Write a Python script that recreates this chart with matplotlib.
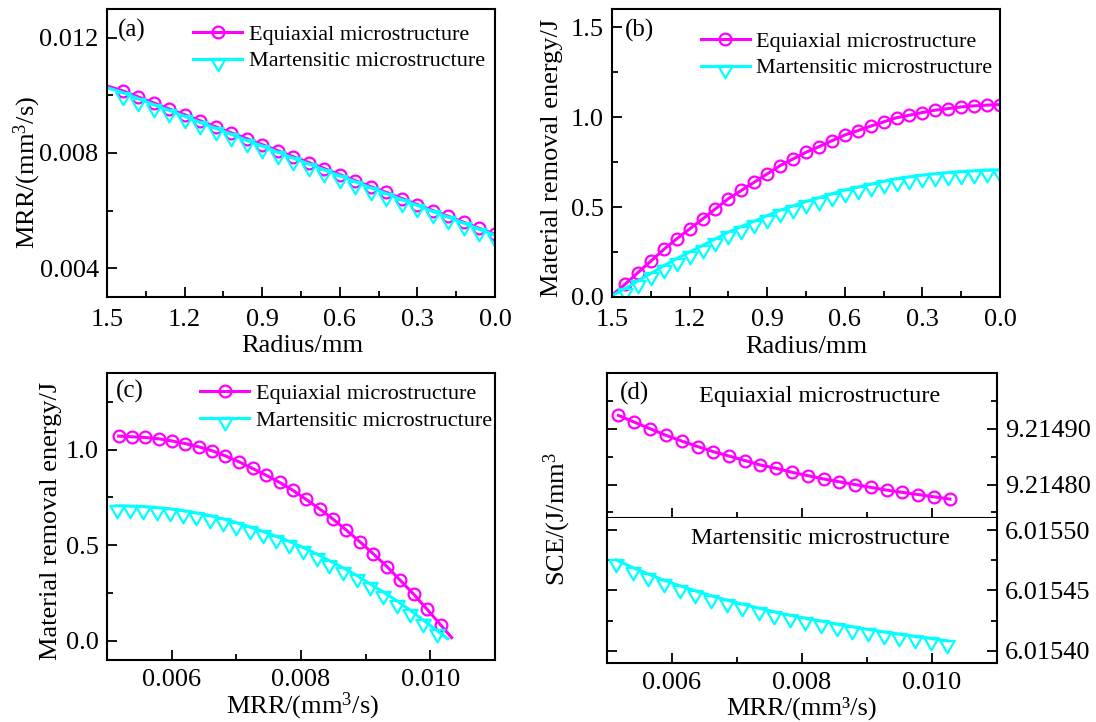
import matplotlib
matplotlib.use('Agg')
import matplotlib.pyplot as plt
from matplotlib.path import Path
from matplotlib.ticker import FixedLocator, FormatStrFormatter

plt.rcParams['font.family'] = ['Liberation Serif', 'DejaVu Serif']
plt.rcParams['mathtext.fontset'] = 'custom'
plt.rcParams['mathtext.rm'] = 'Liberation Serif'
plt.rcParams['mathtext.it'] = 'Liberation Serif:italic'
plt.rcParams['mathtext.default'] = 'regular'

# ---------------- data ----------------
# radius grid (mm) used in panels (a) and (c)
radius_a = [0.00, 0.06, 0.12, 0.18, 0.24, 0.30, 0.36, 0.42, 0.48, 0.54, 0.60, 0.66, 0.72,
            0.78, 0.84, 0.90, 0.96, 1.02, 1.08, 1.14, 1.20, 1.26, 1.32, 1.38, 1.44, 1.50]
mrr_eq = [0.00518, 0.00538, 0.00559, 0.00580, 0.00600, 0.00621, 0.00642, 0.00663, 0.00683,
          0.00704, 0.00725, 0.00746, 0.00767, 0.00787, 0.00808, 0.00829, 0.00850, 0.00870,
          0.00891, 0.00912, 0.00933, 0.00953, 0.00974, 0.00995, 0.01016, 0.01033]
mrr_ma = [0.00515, 0.00535, 0.00556, 0.00577, 0.00597, 0.00618, 0.00638, 0.00659, 0.00679,
          0.00700, 0.00721, 0.00741, 0.00762, 0.00782, 0.00803, 0.00824, 0.00844, 0.00865,
          0.00886, 0.00906, 0.00927, 0.00948, 0.00968, 0.00989, 0.01010, 0.01027]
energy_eq_c = [1.070, 1.067, 1.063, 1.056, 1.045, 1.031, 1.014, 0.993, 0.967, 0.936, 0.901,
               0.866, 0.828, 0.788, 0.739, 0.689, 0.635, 0.579, 0.518, 0.454, 0.388, 0.318,
               0.245, 0.165, 0.083, 0.017]
energy_ma_c = [0.706, 0.704, 0.702, 0.697, 0.690, 0.680, 0.669, 0.655, 0.638, 0.618, 0.595,
               0.572, 0.546, 0.520, 0.488, 0.455, 0.419, 0.382, 0.342, 0.300, 0.256, 0.210,
               0.162, 0.109, 0.055, 0.011]

# radius grid (mm) used in panel (b)
radius_b = [0.00, 0.05, 0.10, 0.15, 0.20, 0.25, 0.30, 0.35, 0.40, 0.45, 0.50, 0.55, 0.60,
            0.65, 0.70, 0.75, 0.80, 0.85, 0.90, 0.95, 1.00, 1.05, 1.10, 1.15, 1.20, 1.25,
            1.30, 1.35, 1.40, 1.45, 1.50]
energy_eq_b = [1.069, 1.066, 1.062, 1.056, 1.047, 1.038, 1.025, 1.010, 0.996, 0.973, 0.949,
               0.924, 0.900, 0.868, 0.835, 0.804, 0.767, 0.730, 0.684, 0.638, 0.592, 0.546,
               0.490, 0.433, 0.378, 0.323, 0.264, 0.199, 0.135, 0.070, 0.010]
energy_ma_b = [0.706, 0.704, 0.701, 0.697, 0.691, 0.685, 0.677, 0.667, 0.657, 0.642, 0.626,
               0.610, 0.594, 0.573, 0.551, 0.531, 0.506, 0.482, 0.452, 0.421, 0.391, 0.360,
               0.323, 0.286, 0.250, 0.213, 0.174, 0.131, 0.089, 0.046, 0.007]

# panel (d): specific cutting energy vs MRR
mrr_eq_d = [0.005175, 0.005417, 0.005664, 0.005912, 0.006149, 0.006396, 0.006633, 0.006880,
            0.007122, 0.007359, 0.007607, 0.007843, 0.008085, 0.008333, 0.008569, 0.008817,
            0.009054, 0.009301, 0.009543, 0.009791, 0.010028, 0.010275]
sce_eq = [9.214924, 9.214912, 9.214900, 9.214888, 9.214878, 9.214868, 9.214859, 9.214851,
          9.214843, 9.214835, 9.214829, 9.214822, 9.214816, 9.214810, 9.214805, 9.214800,
          9.214795, 9.214790, 9.214786, 9.214782, 9.214778, 9.214774]
mrr_ma_d = [0.005142, 0.005395, 0.005637, 0.005873, 0.006121, 0.006358, 0.006605, 0.006847,
            0.007084, 0.007332, 0.007568, 0.007810, 0.008047, 0.008294, 0.008531, 0.008773,
            0.009010, 0.009257, 0.009494, 0.009741, 0.009989, 0.010231]
sce_ma = [6.0154753, 6.0154690, 6.0154635, 6.0154585, 6.0154539, 6.0154497, 6.0154456,
          6.0154420, 6.0154387, 6.0154354, 6.0154324, 6.0154296, 6.0154271, 6.0154247,
          6.0154222, 6.0154200, 6.0154178, 6.0154158, 6.0154139, 6.0154120, 6.0154103,
          6.0154084]

labels = ['Equiaxial microstructure', 'Martensitic microstructure']
radius_ticks = [1.5, 1.2, 0.9, 0.6, 0.3, 0.0]

# ---------------- style ----------------
MAG = '#FF00FF'
CYA = '#00FFFF'
tri = Path([(-1.0, 0.08), (1.0, 0.08), (0.0, -1.65), (-1.0, 0.08)],
           [Path.MOVETO, Path.LINETO, Path.LINETO, Path.CLOSEPOLY])
eq_kw = dict(color=MAG, lw=2.2, marker='o', ms=8.5, mfc='none', mec=MAG, mew=1.6)
ma_kw = dict(color=CYA, lw=2.2, marker=tri, ms=17, mfc='none', mec=CYA, mew=1.6)

W, H = 1096, 722
fig = plt.figure(figsize=(W / 100, H / 100), dpi=100)


def rect(l, r, t, b):
    return [l / W, 1 - b / H, (r - l) / W, (b - t) / H]


def style(ax, xpad=8.5):
    for s in ax.spines.values():
        s.set_linewidth(1.5)
    ax.tick_params(which='both', direction='in', width=1.3, labelsize=19,
                   top=False, right=False)
    ax.tick_params(which='major', length=7)
    ax.tick_params(which='minor', length=4)
    ax.tick_params(axis='x', which='both', pad=xpad)
    ax.tick_params(axis='y', which='both', pad=6)


def legend(ax, x, y):
    ax.legend(loc='upper left', bbox_to_anchor=(x, y), frameon=False, fontsize=16,
              handlelength=2.2, handletextpad=0.3, borderpad=0, borderaxespad=0,
              labelspacing=0.26)


# ---------------- (a) ----------------
axa = fig.add_axes(rect(107, 495, 9, 297))
axa.plot(radius_a, mrr_eq, markevery=slice(0, 25), label=labels[0], **eq_kw)
axa.plot(radius_a, mrr_ma, markevery=slice(0, 25), label=labels[1], **ma_kw)
axa.set_xlim(1.5, 0.0)
axa.set_ylim(0.003, 0.013)
axa.xaxis.set_major_locator(FixedLocator(radius_ticks))
axa.xaxis.set_minor_locator(FixedLocator([1.35, 1.05, 0.75, 0.45, 0.15]))
axa.xaxis.set_major_formatter(FormatStrFormatter('%.1f'))
axa.yaxis.set_major_locator(FixedLocator([0.004, 0.008, 0.012]))
axa.yaxis.set_minor_locator(FixedLocator([0.006, 0.010]))
axa.yaxis.set_major_formatter(FormatStrFormatter('%.3f'))
style(axa)
axa.set_xlabel('Radius/mm', fontsize=19, va='center')
axa.xaxis.set_label_coords(0.503, -0.17)
axa.set_ylabel('MRR/(mm$^3$/s)', fontsize=19, va='center')
axa.yaxis.set_label_coords(-0.206, 0.434)
axa.text(0.028, 0.924, '(a)', transform=axa.transAxes, fontsize=18, va='center', ha='left')
legend(axa, 0.222, 0.946)

# ---------------- (b) ----------------
axb = fig.add_axes(rect(612, 1000, 9, 297))
axb.plot(radius_b, energy_eq_b, markevery=slice(0, 30), label=labels[0], **eq_kw)
axb.plot(radius_b, energy_ma_b, markevery=slice(0, 30), label=labels[1], **ma_kw)
axb.set_xlim(1.5, 0.0)
axb.set_ylim(0.0, 1.6)
axb.xaxis.set_major_locator(FixedLocator(radius_ticks))
axb.xaxis.set_minor_locator(FixedLocator([1.35, 1.05, 0.75, 0.45, 0.15]))
axb.xaxis.set_major_formatter(FormatStrFormatter('%.1f'))
axb.yaxis.set_major_locator(FixedLocator([0.0, 0.5, 1.0, 1.5]))
axb.yaxis.set_minor_locator(FixedLocator([0.25, 0.75, 1.25]))
axb.yaxis.set_major_formatter(FormatStrFormatter('%.1f'))
style(axb)
axb.set_xlabel('Radius/mm', fontsize=19, va='center')
axb.xaxis.set_label_coords(0.5, -0.175)
axb.set_ylabel('Material removal energy/J', fontsize=19, va='center')
axb.yaxis.set_label_coords(-0.155, 0.483)
axb.text(0.034, 0.927, '(b)', transform=axb.transAxes, fontsize=18, va='center', ha='left')
legend(axb, 0.229, 0.922)

# ---------------- (c) ----------------
axc = fig.add_axes(rect(107, 495, 373, 660))
axc.plot(mrr_eq, energy_eq_c, markevery=slice(0, 25), label=labels[0], **eq_kw)
axc.plot(mrr_ma, energy_ma_c, markevery=slice(0, 25), label=labels[1], **ma_kw)
axc.set_xlim(0.005, 0.011)
axc.set_ylim(-0.1, 1.4)
axc.xaxis.set_major_locator(FixedLocator([0.006, 0.008, 0.010]))
axc.xaxis.set_minor_locator(FixedLocator([0.007, 0.009]))
axc.xaxis.set_major_formatter(FormatStrFormatter('%.3f'))
axc.yaxis.set_major_locator(FixedLocator([0.0, 0.5, 1.0]))
axc.yaxis.set_minor_locator(FixedLocator([0.25, 0.75, 1.25]))
axc.yaxis.set_major_formatter(FormatStrFormatter('%.1f'))
style(axc, xpad=6.5)
axc.set_xlabel('MRR/(mm$^3$/s)', fontsize=19, va='center')
axc.xaxis.set_label_coords(0.503, -0.16)
axc.set_ylabel('Material removal energy/J', fontsize=19, va='center')
axc.yaxis.set_label_coords(-0.144, 0.484)
axc.text(0.023, 0.934, '(c)', transform=axc.transAxes, fontsize=18, va='center', ha='left')
legend(axc, 0.240, 0.963)

# ---------------- (d) ----------------
axd1 = fig.add_axes(rect(607, 997, 373, 518))
axd2 = fig.add_axes(rect(607, 997, 518, 663))
axd1.plot(mrr_eq_d, sce_eq, **eq_kw)
axd2.plot(mrr_ma_d, sce_ma, **ma_kw)
for ax in (axd1, axd2):
    ax.set_xlim(0.005, 0.011)
    ax.xaxis.set_major_locator(FixedLocator([0.006, 0.008, 0.010]))
    ax.xaxis.set_minor_locator(FixedLocator([0.007, 0.009]))
    ax.xaxis.set_major_formatter(FormatStrFormatter('%.3f'))
    ax.yaxis.set_major_formatter(FormatStrFormatter('%.5f'))
    style(ax, xpad=6.5)
    ax.tick_params(axis='y', which='both', left=True, right=True,
                   labelleft=False, labelright=True)
axd1.tick_params(axis='x', which='both', labelbottom=False)
axd1.set_ylim(9.21474, 9.21500)
axd1.yaxis.set_major_locator(FixedLocator([9.2148, 9.2149]))
axd1.yaxis.set_minor_locator(FixedLocator([9.21475, 9.21485, 9.21495]))
axd2.set_ylim(6.01539, 6.01551)
axd2.yaxis.set_major_locator(FixedLocator([6.01540, 6.01545, 6.01550]))
axd2.yaxis.set_minor_locator(FixedLocator([6.015425, 6.015475]))
axd2.spines['top'].set_visible(False)
axd2.set_xlabel('MRR/(mm³/s)', fontsize=19, va='center')
axd2.xaxis.set_label_coords(0.5, -0.31)
axd1.text(0.033, 0.862, '(d)', transform=axd1.transAxes, fontsize=18, va='center', ha='left')
axd1.text(0.546, 0.841, labels[0], transform=axd1.transAxes, fontsize=17.5,
          va='center', ha='center')
axd2.text(0.546, 0.862, labels[1], transform=axd2.transAxes, fontsize=17.5,
          va='center', ha='center')
fig.text(557 / W, 1 - 519 / H, 'SCE/(J/mm$^3$', fontsize=19, rotation=90,
         va='center', ha='center')

fig.savefig('out.png', dpi=100)
